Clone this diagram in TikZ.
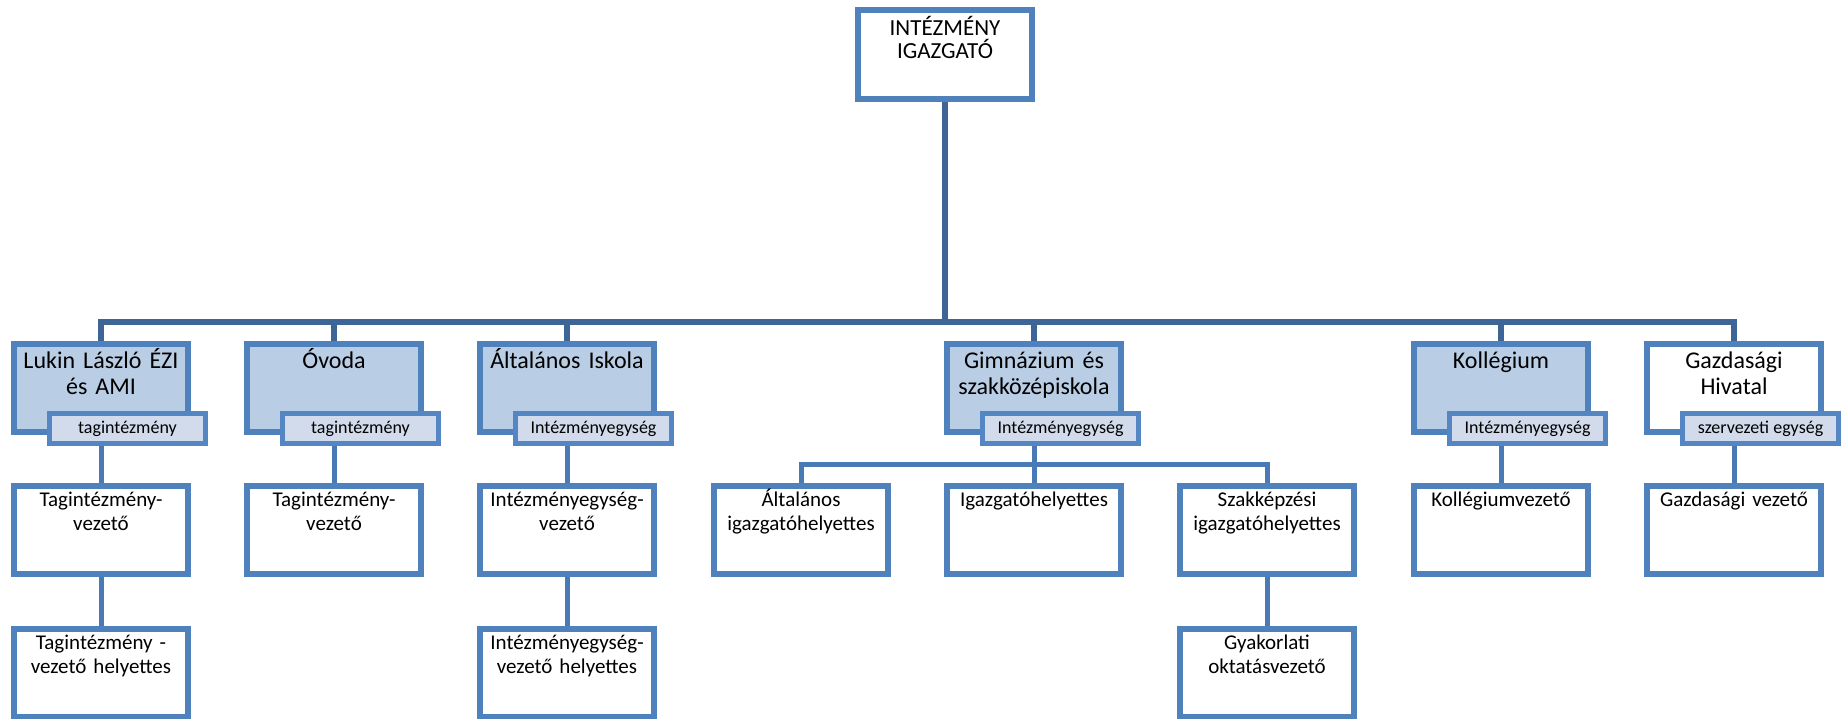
\documentclass[tikz,border=0pt]{standalone}
\usepackage{fontspec}
\setmainfont{Carlito}
\usetikzlibrary{positioning,backgrounds}
\definecolor{boxline}{RGB}{79,129,189}
\definecolor{tagline}{RGB}{84,134,196}
\definecolor{unitfill}{RGB}{185,205,229}
\definecolor{tagfill}{RGB}{210,219,235}
\definecolor{trunkline}{RGB}{61,101,150}
\definecolor{linkline}{RGB}{74,122,181}

\begin{document}
\begin{tikzpicture}[x=1pt,y=-1pt,
node distance=48pt and 53pt,
box/.style={draw=boxline,line width=6pt,inner sep=0pt,text width=174pt,align=center},
head/.style={box,fill=white,font=\fontsize{23}{23}\selectfont,text height=25pt,text depth=64pt},
unit/.style={box,fill=unitfill,font=\fontsize{24}{26}\selectfont,text height=24pt,text depth=64pt},
role/.style={box,fill=white,font=\fontsize{21}{24}\selectfont,text height=20pt,text depth=68pt},
tag/.style={draw=tagline,line width=5pt,fill=tagfill,inner sep=0pt,minimum width=156pt,minimum height=30pt,font=\fontsize{18}{20}\selectfont,anchor=south east},
trunk/.style={draw=trunkline,line width=5.5pt},
link/.style={draw=linkline,line width=5pt}]
\useasboundingbox (0,0) rectangle (1843,718);
\node[head] (igazgato) at (945,54.5) {INTÉZMÉNY\\IGAZGATÓ};
\node[unit] (lukin) at (101,388) {Lukin László ÉZI\\és AMI};
\node[unit,right=of lukin] (ovoda) {Óvoda};
\node[unit,right=of ovoda] (altisk) {Általános Iskola};
\node[unit,right=287pt of altisk] (gimn) {Gimnázium és\\szakközépiskola};
\node[unit,right=287pt of gimn] (koll) {Kollégium};
\node[box,fill=white,font=\fontsize{24}{26}\selectfont,text height=24pt,text depth=64pt,right=of koll] (gazd) {Gazdasági\\Hivatal};
\node[tag] (lukintag) at ([xshift=17pt,yshift=-11pt]lukin.south east) {tagintézmény};
\node[tag] (ovodatag) at ([xshift=17pt,yshift=-11pt]ovoda.south east) {tagintézmény};
\node[tag] (altisktag) at ([xshift=17pt,yshift=-11pt]altisk.south east) {Intézményegység};
\node[tag] (gimntag) at ([xshift=17pt,yshift=-11pt]gimn.south east) {Intézményegység};
\node[tag] (kolltag) at ([xshift=17pt,yshift=-11pt]koll.south east) {Intézményegység};
\node[tag] (gazdtag) at ([xshift=17pt,yshift=-11pt]gazd.south east) {szervezeti egység};
\node[role,below=of lukin] (lukinvez) {Tagintézmény-\\vezető};
\node[role,below=of ovoda] (ovodavez) {Tagintézmény-\\vezető};
\node[role,below=of altisk] (altiskvez) {Intézményegység-\\vezető};
\node[role,below=of gimn] (igazgh) {Igazgatóhelyettes};
\node[role,left=of igazgh] (altigh) {Általános\\igazgatóhelyettes};
\node[role,right=of igazgh] (szakigh) {Szakképzési\\igazgatóhelyettes};
\node[role,below=of koll] (kollvez) {Kollégiumvezető};
\node[role,below=of gazd] (gazdvez) {Gazdasági vezető};
\node[role,below=49pt of lukinvez] (lukinhely) {Tagintézmény -\\vezető helyettes};
\node[role,below=49pt of altiskvez] (altiskhely) {Intézményegység-\\vezető helyettes};
\node[role,below=49pt of szakigh] (gyakvez) {Gyakorlati\\oktatásvezető};
\coordinate (hub) at (945,322);
\coordinate (gbus) at ([yshift=-29pt]gimn.south);
\begin{scope}[on background layer]
\draw[trunk] (igazgato) -- (hub);
\draw[trunk] (lukin) |- (hub);
\draw[trunk] (ovoda) |- (hub);
\draw[trunk] (altisk) |- (hub);
\draw[trunk] (gimn) |- (hub);
\draw[trunk] (koll) |- (hub);
\draw[trunk] (gazd) |- (hub);
\draw[link] (lukin) -- (lukinvez);
\draw[link] (lukinvez) -- (lukinhely);
\draw[link] (ovoda) -- (ovodavez);
\draw[link] (altisk) -- (altiskvez);
\draw[link] (altiskvez) -- (altiskhely);
\draw[link] (gimn) -- (igazgh);
\draw[link] (altigh) |- (gbus);
\draw[link] (szakigh) |- (gbus);
\draw[link] (szakigh) -- (gyakvez);
\draw[link] (koll) -- (kollvez);
\draw[link] (gazd) -- (gazdvez);
\end{scope}
\end{tikzpicture}
\end{document}
